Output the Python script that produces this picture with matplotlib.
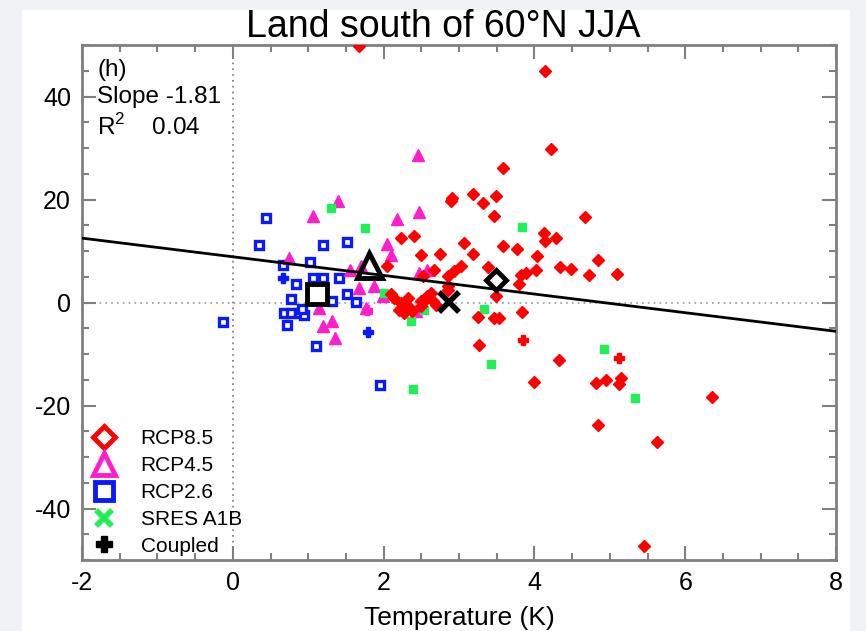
import matplotlib
matplotlib.use("Agg")
from matplotlib import pyplot as plt
from matplotlib.lines import Line2D
from matplotlib.patches import Rectangle
from matplotlib.ticker import MultipleLocator

plt.rcParams['font.family'] = ['Liberation Sans', 'DejaVu Sans']
plt.rcParams['mathtext.fontset'] = 'custom'
plt.rcParams['mathtext.rm'] = 'Liberation Sans'
plt.rcParams['axes.unicode_minus'] = False

# scenario members: temperature change (K) vs precipitation change (%)
rcp85_x = [1.67, 4.14, 4.22, 3.58, 2.91, 2.89, 3.19, 3.32, 3.49, 3.47, 4.67, 2.23, 2.40,
           3.06, 3.19, 2.75, 2.50, 3.59, 3.77, 4.13, 4.14, 4.29, 4.04, 4.84, 4.34, 4.48,
           4.73, 5.10, 3.82, 3.89, 4.02, 3.80, 3.38, 3.02, 2.94, 2.85, 2.67, 2.05, 2.52,
           2.85, 2.63, 3.49, 3.84, 3.25, 3.47, 3.53, 2.32, 2.49, 2.58, 2.65, 2.14, 2.23,
           2.32, 2.38, 2.21, 2.27, 2.10, 2.56, 2.69, 2.85, 2.49, 3.27, 4.33, 4.00, 4.82,
           4.95, 5.12, 5.15, 6.36, 4.85, 5.63, 5.45]
rcp85_y = [49.8, 44.9, 29.8, 26.1, 20.3, 19.7, 21.0, 19.4, 20.6, 16.8, 16.6, 12.6, 12.9,
           11.6, 9.4, 9.4, 9.3, 10.9, 10.4, 13.5, 11.9, 12.6, 9.0, 8.2, 6.9, 6.6,
           5.3, 5.6, 5.4, 5.8, 6.4, 3.5, 6.9, 7.0, 6.1, 5.1, 6.4, 7.0, 5.1,
           3.2, 1.9, 1.2, -1.9, -2.8, -3.0, -3.0, 0.9, 0.3, 1.2, 0.3, 0.9, -0.1,
           -0.7, -1.7, -1.4, -2.0, 1.6, 0.6, -0.4, 2.5, -0.7, -8.3, -11.1, -15.5, -15.6,
           -15.0, -15.9, -14.6, -18.4, -23.7, -27.0, -47.3]

rcp45_x = [2.45, 1.39, 1.06, 2.18, 2.47, 2.05, 2.10, 0.75, 1.56, 1.70, 2.47, 2.58,
           1.68, 1.87, 1.99, 1.76, 1.19, 1.32, 1.35, 2.43, 1.14]
rcp45_y = [28.7, 19.7, 16.8, 16.3, 17.5, 11.3, 9.3, 8.7, 6.4, 7.0, 5.8, 6.4,
           2.9, 3.2, 1.2, -1.0, -4.6, -3.6, -6.9, -1.7, -1.0]

rcp26_x = [0.44, 0.35, 1.19, 1.52, 0.66, 1.03, 0.84, 1.06, 1.19, 1.41, 0.77, 0.68,
           0.77, 0.88, 0.95, 0.72, 1.32, 1.51, 1.64, 1.10, 1.95, -0.13, 0.92]
rcp26_y = [16.4, 11.1, 11.1, 11.7, 7.2, 7.8, 3.6, 4.8, 4.8, 4.8, 0.6, -2.0,
           -2.0, -2.0, -2.5, -4.3, 0.3, 1.6, 0.1, -8.5, -16.1, -3.7, -1.2]

a1b_x = [1.30, 1.75, 3.83, 2.01, 2.54, 3.33, 2.37, 4.92, 3.43, 2.39, 5.34]
a1b_y = [18.4, 14.5, 14.7, 1.9, -1.4, -1.2, -3.6, -9.1, -12.0, -16.7, -18.6]

# coupled runs, coloured by scenario
coupled_x = [0.66, 1.79, 1.78, 3.85, 5.12]
coupled_y = [4.8, -5.7, -1.4, -7.3, -10.7]
coupled_scen = ['RCP2.6', 'RCP2.6', 'RCP4.5', 'RCP8.5', 'RCP8.5']

# ensemble means
mean_x = {'RCP8.5': 3.49, 'RCP4.5': 1.81, 'RCP2.6': 1.12, 'SRES A1B': 2.87}
mean_y = {'RCP8.5': 4.3, 'RCP4.5': 7.2, 'RCP2.6': 1.6, 'SRES A1B': 0.1}

slope = -1.81
intercept = 8.88
r2 = 0.04

colors = {'RCP8.5': 'red', 'RCP4.5': '#ff1ecc', 'RCP2.6': '#0a1aff',
          'SRES A1B': '#22ee55', 'Coupled': 'black'}

fig = plt.figure(figsize=(8.66, 6.31), dpi=100, facecolor='#f1f2f5')
fig.add_artist(Rectangle((22 / 866, 0), 828 / 866, 621 / 631,
                         transform=fig.transFigure, facecolor='white',
                         edgecolor='none', zorder=-10))
ax = fig.add_axes([82 / 866, 1 - 560 / 631, 754 / 866, 515 / 631])
ax.set_facecolor('white')

ax.axvline(0, color='#777777', lw=1.2, ls=(0, (1, 2.5)), zorder=1)
ax.axhline(0, color='#999999', lw=1.2, ls=(0, (1, 2.5)), zorder=1)

ax.plot(rcp26_x, rcp26_y, 's', ms=6, mfc='white', mec=colors['RCP2.6'], mew=2.4,
        ls='none', zorder=3)
ax.plot(rcp45_x, rcp45_y, '^', ms=8.5, color=colors['RCP4.5'], ls='none', zorder=3)
ax.plot(a1b_x, a1b_y, 's', ms=5.5, color=colors['SRES A1B'], ls='none', zorder=3)
ax.plot(rcp85_x, rcp85_y, 'D', ms=6, color=colors['RCP8.5'], ls='none', zorder=4)
for cx, cy, sc in zip(coupled_x, coupled_y, coupled_scen):
    ax.plot(cx, cy, 'P', ms=7.5, color=colors[sc], ls='none', zorder=4)

xs = [-2, 8]
ax.plot(xs, [intercept + slope * v for v in xs], color='black', lw=2, zorder=5)

ax.plot(mean_x['RCP2.6'], mean_y['RCP2.6'], 's', ms=15, mfc='none', mec='black', mew=3.5, zorder=6)
ax.plot(mean_x['RCP4.5'], mean_y['RCP4.5'], '^', ms=18, mfc='none', mec='black', mew=3.5, zorder=6)
ax.plot(mean_x['SRES A1B'], mean_y['SRES A1B'], 'x', ms=14, mec='black', mew=4, zorder=6)
ax.plot(mean_x['RCP8.5'], mean_y['RCP8.5'], 'D', ms=10, mfc='none', mec='black', mew=3.5, zorder=6)

ax.set_xlim(-2, 8)
ax.set_ylim(-50, 50)
ax.xaxis.set_major_locator(MultipleLocator(2))
ax.xaxis.set_minor_locator(MultipleLocator(0.5))
ax.yaxis.set_major_locator(MultipleLocator(20))
ax.yaxis.set_minor_locator(MultipleLocator(5))
ax.tick_params(which='both', direction='in', top=True, right=True, color='#808080',
               labelsize=18, pad=8)
ax.tick_params(which='major', length=10, width=1.5)
ax.tick_params(which='minor', length=5, width=1.5)
for sp in ax.spines.values():
    sp.set_color('#808080')
    sp.set_linewidth(2)

ax.set_title('Land south of 60°N JJA', fontsize=27, pad=5, x=0.479)
ax.set_xlabel('Temperature (K)', fontsize=19, labelpad=8)

ax.text(0.02, 0.951, '(h)', transform=ax.transAxes, fontsize=17.5, va='center')
ax.text(0.02, 0.899, 'Slope %.2f' % slope, transform=ax.transAxes, fontsize=17.5, va='center')
ax.text(0.02, 0.841, 'R$^2$    %.2f' % r2, transform=ax.transAxes, fontsize=17.5, va='center')

handles = [
    Line2D([], [], marker='D', ms=11, mfc='white', mec=colors['RCP8.5'], mew=3.5, ls='none'),
    Line2D([], [], marker='^', ms=16, mfc='white', mec=colors['RCP4.5'], mew=3.5, ls='none'),
    Line2D([], [], marker='s', ms=13, mfc='white', mec=colors['RCP2.6'], mew=3.5, ls='none'),
    Line2D([], [], marker='x', ms=11, mec=colors['SRES A1B'], mew=4, ls='none'),
    Line2D([], [], marker='P', ms=11, color='black', ls='none'),
]
labels = ['RCP8.5', 'RCP4.5', 'RCP2.6', 'SRES A1B', 'Coupled']
ax.legend(handles, labels, loc='lower left', bbox_to_anchor=(-0.008, -0.02), frameon=False,
          fontsize=15, handletextpad=1.1, labelspacing=0.38, borderaxespad=0.3,
          handlelength=1.3)

fig.savefig('out.png', dpi=100, facecolor=fig.get_facecolor())
